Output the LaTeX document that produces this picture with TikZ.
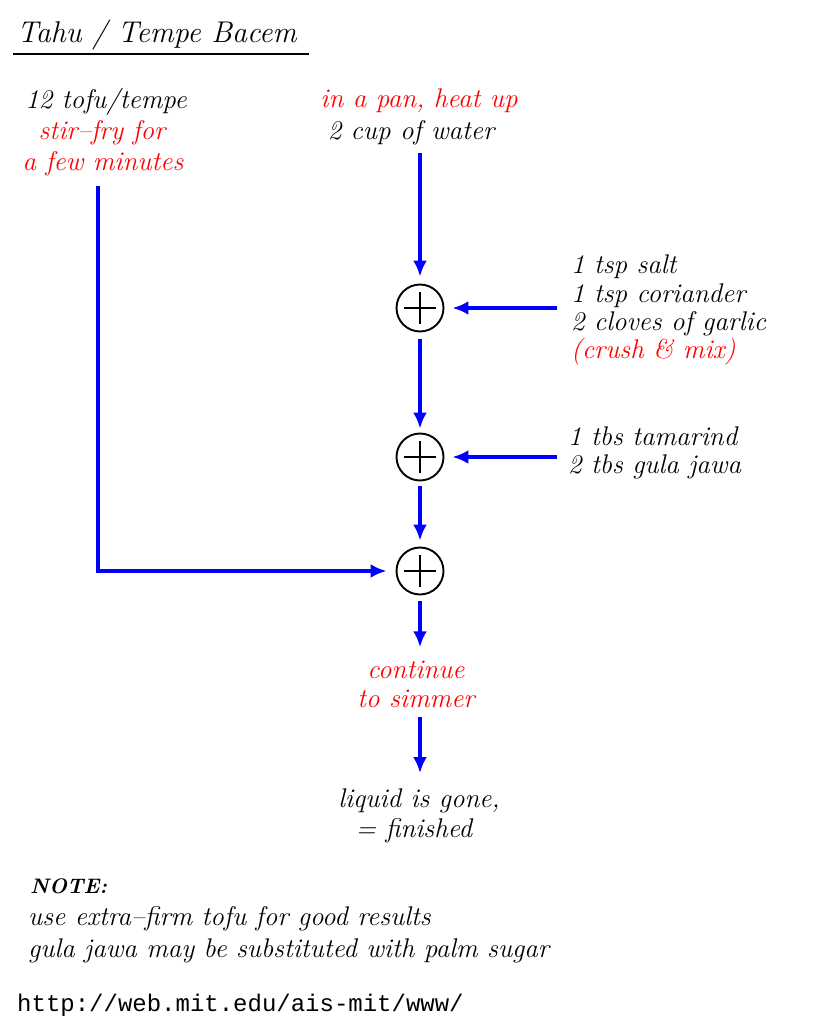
\documentclass[tikz,border=0pt]{standalone}
\usepackage{fontspec}
\setmonofont{Liberation Mono}
\usetikzlibrary{arrows.meta}
\definecolor{pured}{RGB}{255,0,0}
\definecolor{pureblue}{RGB}{0,0,255}
\begin{document}
\begin{tikzpicture}[x=1pt,y=-1pt,
  txt/.style={font=\fontsize{27}{32}\selectfont\itshape, inner sep=0pt, anchor=base},
  redtxt/.style={txt, text=pured},
  flow/.style={draw=pureblue, line width=3.2pt, -{Latex[length=16pt,width=14pt]}},
  sumnode/.style={circle, draw, line width=1.9pt, minimum size=47pt, inner sep=0pt,
    path picture={
      \draw[line width=1.5pt] (path picture bounding box.center) ++(-16pt,0) -- ++(32pt,0);
      \draw[line width=1.5pt] (path picture bounding box.center) ++(0,-16pt) -- ++(0,32pt);
    }}
]
\useasboundingbox (0,0) rectangle (820,1024);

% title
\node[txt, anchor=base west, font=\fontsize{30}{36}\selectfont\itshape] (title) at (17,43) {Tahu / Tempe Bacem};
\draw[line width=1.6pt] (13,54) -- (309,54);

% left column
\node[txt] (tofu) at (106,109) {12 tofu/tempe};
\node[redtxt] (stir) at (102,140) {stir--fry for};
\node[redtxt] (few) at (103,171) {a few minutes};

% top centre
\node[redtxt] (pan) at (419,108) {in a pan, heat up};
\node[txt] (water) at (411,140) {2 cup of water};

% sum nodes
\node[sumnode] (c1) at (420,308) {};
\node[sumnode] (c2) at (420,457) {};
\node[sumnode] (c3) at (420,571) {};

% spices
\node[txt, anchor=base west] (salt) at (571,273) {1 tsp salt};
\node[txt, anchor=base west] (cori) at (571,302) {1 tsp coriander};
\node[txt, anchor=base west] (garlic) at (571,330) {2 cloves of garlic};
\node[redtxt, anchor=base west] (crush) at (571,358) {(crush \& mix)};

\node[txt, anchor=base west] (tam) at (568,445) {1 tbs tamarind};
\node[txt, anchor=base west] (gula) at (568,473) {2 tbs gula jawa};

% bottom
\node[redtxt] (cont) at (416,678) {continue};
\node[redtxt] (simmer) at (416,707) {to simmer};
\node[txt] (liquid) at (419,807) {liquid is gone,};
\node[txt] (fin) at (414,837) {= finished};

% note
\node[txt, anchor=base west, font=\fontsize{21}{24}\selectfont\bfseries\itshape] (note) at (30,893) {NOTE:};
\node[txt, anchor=base west] (n1) at (28,925) {use extra--firm tofu for good results};
\node[txt, anchor=base west] (n2) at (28,957) {gula jawa may be substituted with palm sugar};
\node[anchor=base west, inner sep=0pt, font=\fontsize{24}{28}\ttfamily] (url) at (17,1011) {http://web.mit.edu/ais-mit/www/};

% connectors
\draw[flow, shorten <=7pt, shorten >=7pt] (c1 |- water.south) -- (c1);
\draw[flow, shorten <=7pt, shorten >=4pt] (c1) -- (c2);
\draw[flow, shorten <=5pt, shorten >=6pt] (c2) -- (c3);
\draw[flow, shorten <=6pt, shorten >=13pt] (c3) -- (c3 |- cont.north);
\draw[flow, shorten <=10pt, shorten >=15pt] (c3 |- simmer.south) -- (c3 |- liquid.north);
\draw[flow, shorten <=14pt, shorten >=8pt] (cori.west |- c1) -- (c1);
\draw[flow, shorten <=11pt, shorten >=8pt] (tam.west |- c2) -- (c2);
\draw[flow, shorten <=9pt, shorten >=9pt] ([xshift=-5pt]few.south) |- (c3);
\end{tikzpicture}
\end{document}
